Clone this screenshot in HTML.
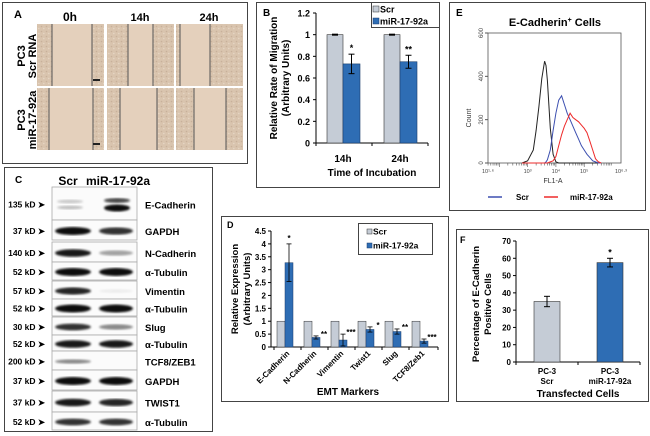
<!DOCTYPE html>
<html><head><meta charset="utf-8">
<style>
html,body{margin:0;padding:0;background:#fff}
svg{display:block;font-family:"Liberation Sans",Arial,sans-serif}
.b{font-weight:bold}
</style></head>
<body>
<svg width="650" height="436" viewBox="0 0 650 436" xmlns="http://www.w3.org/2000/svg">
<defs>
<filter id="blur1"><feGaussianBlur stdDeviation="1.1"/></filter>
<pattern id="cells" width="5" height="5" patternUnits="userSpaceOnUse">
<rect width="5" height="5" fill="#d9c4ae"/>
<circle cx="1.5" cy="1.5" r="0.8" fill="#c8b09a"/>
<circle cx="3.8" cy="3.5" r="0.8" fill="#e6d6c4"/>
</pattern>
</defs>

<g>
<rect x="2.5" y="2.5" width="245" height="161" fill="none" stroke="#444" stroke-width="1"/>
<text x="14" y="18" class="b" font-size="11">A</text>
<text x="70" y="21" class="b" font-size="12" text-anchor="middle">0h</text>
<text x="140" y="21" class="b" font-size="11" text-anchor="middle">14h</text>
<text x="209" y="21" class="b" font-size="11" text-anchor="middle">24h</text>
<text transform="translate(25,56) rotate(-90)" class="b" font-size="11" text-anchor="middle">PC3</text>
<text transform="translate(36,56) rotate(-90)" class="b" font-size="11" text-anchor="middle">Scr RNA</text>
<text transform="translate(25,120) rotate(-90)" class="b" font-size="11" text-anchor="middle">PC3</text>
<text transform="translate(36,120) rotate(-90)" class="b" font-size="11" text-anchor="middle">miR-17-92a</text>
<g id="imgs"></g>
</g>

<g>
<rect x="256.5" y="2.5" width="183" height="185" fill="none" stroke="#444"/>
<text x="263" y="16" class="b" font-size="10">B</text>
<g id="chartB"></g>
</g>

<g>
<rect x="4.5" y="167.5" width="208" height="264" fill="none" stroke="#444"/>
<text x="15" y="183" class="b" font-size="10">C</text>
<text x="68" y="185" class="b" font-size="12" text-anchor="middle">Scr</text>
<text x="118" y="185" class="b" font-size="12" text-anchor="middle">miR-17-92a</text>
<g id="blots"></g>
</g>

<g>
<rect x="221.5" y="216.5" width="227" height="185" fill="none" stroke="#444"/>
<text x="227" y="228" class="b" font-size="9">D</text>
<g id="chartD"></g>
</g>

<g>
<rect x="449.5" y="2.5" width="196" height="208" fill="none" stroke="#444"/>
<text x="456" y="16" class="b" font-size="10">E</text>
<text x="555" y="26" class="b" font-size="11" text-anchor="middle">E-Cadherin<tspan font-size="7" dy="-4">+</tspan><tspan dy="4"> Cells</tspan></text>
<g id="chartE"></g>
</g>

<g>
<rect x="456.5" y="229.5" width="192" height="172" fill="none" stroke="#444"/>
<text x="460" y="243" class="b" font-size="9">F</text>
<g id="chartF"></g>
</g>
</svg>

<script>
const bCategories = ["14h", "24h"];
const bScr = [1, 1];
const bMir = [0.73, 0.75];
const bMirErr = [0.09, 0.06];
const bStars = ["*", "**"];
const bTicks = [0, 0.2, 0.4, 0.6, 0.8, 1, 1.2];

const dCategories = ["E-Cadherin", "N-Cadherin", "Vimentin", "Twist1", "Slug", "TCF8/Zeb1"];
const dScr = [1, 1, 1, 1, 1, 1];
const dMir = [3.27, 0.37, 0.27, 0.68, 0.6, 0.23];
const dMirErr = [0.73, 0.06, 0.23, 0.1, 0.1, 0.08];
const dStars = ["*", "**", "***", "*", "**", "***"];
const dTicks = [0, 0.5, 1, 1.5, 2, 2.5, 3, 3.5, 4, 4.5];

const eLog = [2.8, 3.0, 3.2, 3.3, 3.4, 3.5, 3.6, 3.65, 3.7, 3.8, 3.9, 4.0, 4.1, 4.2, 4.3, 4.4, 4.5, 4.6, 4.7, 4.8, 4.9, 5.0, 5.1, 5.2, 5.3, 5.4, 5.5, 5.6];
const eBlack = [0, 10, 60, 150, 260, 390, 470, 450, 380, 160, 40, 5, 0, 0, 0, 0, 0, 0, 0, 0, 0, 0, 0, 0, 0, 0, 0, 0];
const eBlue = [0, 0, 0, 0, 0, 0, 0, 5, 15, 60, 150, 230, 290, 310, 270, 230, 200, 170, 140, 110, 80, 60, 40, 25, 10, 5, 0, 0];
const eRed = [0, 0, 0, 0, 0, 0, 0, 0, 0, 5, 10, 30, 80, 130, 170, 200, 230, 210, 200, 190, 175, 160, 140, 100, 60, 20, 5, 0];
const eYTicks = [0, 200, 400, 600];

const fCategories = ["PC-3|Scr", "PC-3|miR-17-92a"];
const fValues = [35, 57.5];
const fErr = [3, 2.5];
const fTicks = [0, 10, 20, 30, 40, 50, 60, 70];

const blotRows = [
  {kd:"135 kD", name:"E-Cadherin", y0:187, y1:220, s:0.3, m:0.95},
  {kd:"37 kD", name:"GAPDH", y0:220, y1:240, s:0.95, m:0.8},
  {kd:"140 kD", name:"N-Cadherin", y0:242, y1:262, s:0.9, m:0.35},
  {kd:"52 kD", name:"α-Tubulin", y0:262, y1:280, s:0.95, m:0.95},
  {kd:"57 kD", name:"Vimentin", y0:281, y1:299, s:0.85, m:0.05},
  {kd:"52 kD", name:"α-Tubulin", y0:299, y1:316, s:0.95, m:0.95},
  {kd:"30 kD", name:"Slug", y0:317, y1:335, s:0.8, m:0.45},
  {kd:"52 kD", name:"α-Tubulin", y0:335, y1:351, s:0.9, m:0.9},
  {kd:"200 kD", name:"TCF8/ZEB1", y0:351, y1:370, s:0.45, m:0},
  {kd:"37 kD", name:"GAPDH", y0:370, y1:390, s:0.95, m:0.95},
  {kd:"37 kD", name:"TWIST1", y0:391, y1:412, s:0.9, m:0.85},
  {kd:"52 kD", name:"α-Tubulin", y0:412, y1:430, s:0.8, m:0.8}
];

const NS = "http://www.w3.org/2000/svg";
function mk(parent, tag, attrs, text) {
  const e = document.createElementNS(NS, tag);
  for (const k in attrs) e.setAttribute(k, attrs[k]);
  if (text !== undefined) e.textContent = text;
  parent.appendChild(e);
  return e;
}

(function(){
  const g = document.getElementById("imgs");
  const cols = [37, 107, 176];
  const rows = [24, 88];
  const gaps = [[[52,92],[128,153],[180,210]],[[49,93],[120,157],[194,226]]];
  rows.forEach((y, ri) => cols.forEach((x, ci) => {
    const im = mk(g, "rect", {x:x, y:y, width:67, height:62, fill:"url(#cells)"});
    
    
    const gp = gaps[ri][ci];
    mk(g, "rect", {x:gp[0], y:y, width:gp[1]-gp[0], height:62, fill:"#e4d0bc"});
    mk(g, "line", {x1:gp[0], y1:y, x2:gp[0], y2:y+62, stroke:"#555", "stroke-width":1});
    mk(g, "line", {x1:gp[1], y1:y, x2:gp[1], y2:y+62, stroke:"#555", "stroke-width":1});
    if (ci === 0) mk(g, "line", {x1:93, y1:y+56, x2:100, y2:y+56, stroke:"#222", "stroke-width":2});
  }));
})();

(function(){
  const g = document.getElementById("chartB");
  const x0 = 316, yb = 143, yt = 13, max = 1.2;
  const y = v => yb - (v / max) * (yb - yt);
  const groupX = [327, 384];
  mk(g, "line", {x1:x0, y1:yt, x2:x0, y2:yb, stroke:"#000"});
  mk(g, "line", {x1:x0, y1:yb, x2:428, y2:yb, stroke:"#000"});
  [x0, 372, 428].forEach(t => mk(g, "line", {x1:t, y1:yb, x2:t, y2:yb+3, stroke:"#000"}));
  bTicks.forEach(t => {
    mk(g, "line", {x1:x0-3, y1:y(t), x2:x0, y2:y(t), stroke:"#000"});
    const tl = mk(g, "text", {x:x0-6, y:y(t)+3.5, "font-size":9, "text-anchor":"end", class:"b"}, String(t));
    
    
  });
  bCategories.forEach((c, i) => {
    const gx = groupX[i];
    const r1 = mk(g, "rect", {x:gx, y:y(bScr[i]), width:16, height:yb-y(bScr[i]), fill:"#c5ccd6", stroke:"#333", "stroke-width":0.6});
    
    
    mk(g, "line", {x1:gx+5, y1:y(bScr[i]), x2:gx+11, y2:y(bScr[i]), stroke:"#000", "stroke-width":2});
    const r2 = mk(g, "rect", {x:gx+16, y:y(bMir[i]), width:17, height:yb-y(bMir[i]), fill:"#2e6db4", stroke:"#1a3d6a", "stroke-width":0.6});
    
    
    const cx = gx + 24.5, hi = y(bMir[i] + bMirErr[i]), lo = y(bMir[i] - bMirErr[i]);
    mk(g, "line", {x1:cx, y1:hi, x2:cx, y2:lo, stroke:"#000"});
    mk(g, "line", {x1:cx-3, y1:hi, x2:cx+3, y2:hi, stroke:"#000"});
    mk(g, "line", {x1:cx-3, y1:lo, x2:cx+3, y2:lo, stroke:"#000"});
    mk(g, "text", {x:cx, y:hi-3, "font-size":9, "text-anchor":"middle", class:"b"}, bStars[i]);
    const xl = mk(g, "text", {x:gx+16, y:162, "font-size":10, "text-anchor":"middle", class:"b"}, c);
    
    
  });
  const xt = mk(g, "text", {x:372, y:176, "font-size":10, "text-anchor":"middle", class:"b"}, "Time of Incubation");
  
  
  const yt1 = mk(g, "text", {transform:"translate(277,78) rotate(-90)", "font-size":10, "text-anchor":"middle", class:"b"}, "Relative Rate of Migration");
  
  
  mk(g, "text", {transform:"translate(289,78) rotate(-90)", "font-size":10, "text-anchor":"middle", class:"b"}, "(Arbitrary Units)");
  const lg = mk(g, "g", {});
  
  
  mk(lg, "rect", {x:371.5, y:2.5, width:68, height:25, fill:"#fff", stroke:"#444"});
  mk(lg, "rect", {x:373, y:6, width:6, height:6, fill:"#c5ccd6", stroke:"#333", "stroke-width":0.5});
  mk(lg, "text", {x:380, y:12.5, "font-size":9, class:"b"}, "Scr");
  mk(lg, "rect", {x:373, y:18, width:6, height:6, fill:"#2e6db4", stroke:"#1a3d6a", "stroke-width":0.5});
  mk(lg, "text", {x:380, y:24.5, "font-size":9, class:"b"}, "miR-17-92a");
})();

(function(){
  const g = document.getElementById("blots");
  blotRows.forEach((r, idx) => {
    const row = mk(g, "g", {});
    
    
    mk(row, "rect", {x:52, y:r.y0, width:85, height:r.y1-r.y0, fill:"#fbfbfb", stroke:"#aaa", "stroke-width":0.8});
    const cy = (r.y0 + r.y1) / 2 + 1;
    const h = 2 + 2.2 * Math.max(r.s, r.m);
    if (idx === 0) {
      mk(row, "ellipse", {cx:70, cy:cy-3, rx:13, ry:1.8, fill:"#333", opacity:0.25, filter:"url(#blur1)"});
      mk(row, "ellipse", {cx:70, cy:cy+3, rx:13, ry:1.8, fill:"#333", opacity:0.3, filter:"url(#blur1)"});
      mk(row, "ellipse", {cx:117, cy:cy-4, rx:13, ry:2.5, fill:"#111", opacity:0.75, filter:"url(#blur1)"});
      mk(row, "ellipse", {cx:117, cy:cy+3.5, rx:13, ry:3.5, fill:"#000", opacity:0.95, filter:"url(#blur1)"});
    } else {
      if (r.s > 0) mk(row, "ellipse", {cx:73, cy:cy, rx:18, ry:h*(0.5+0.5*r.s), fill:"#000", opacity:r.s, filter:"url(#blur1)"});
      if (r.m > 0) mk(row, "ellipse", {cx:116, cy:cy, rx:17, ry:h*(0.5+0.5*r.m), fill:"#000", opacity:r.m, filter:"url(#blur1)"});
    }
    mk(row, "text", {x:45, y:cy+3, "font-size":8.5, "text-anchor":"end", class:"b"}, r.kd + " ➤");
    mk(row, "text", {x:145, y:cy+4, "font-size":9.5, class:"b"}, r.name);
  });
})();

(function(){
  const g = document.getElementById("chartD");
  const x0 = 271, xr = 438, yb = 347, yt = 231, max = 4.5;
  const y = v => yb - (v / max) * (yb - yt);
  const step = 27, first = 277;
  mk(g, "line", {x1:x0, y1:yt, x2:x0, y2:yb, stroke:"#000"});
  mk(g, "line", {x1:x0, y1:yb, x2:xr, y2:yb, stroke:"#000"});
  dTicks.forEach(t => {
    mk(g, "line", {x1:x0-3, y1:y(t), x2:x0, y2:y(t), stroke:"#000"});
    const tl = mk(g, "text", {x:x0-5, y:y(t)+3, "font-size":8, "text-anchor":"end", class:"b"}, String(t));
    
    
  });
  dCategories.forEach((c, i) => {
    const gx = first + i * step;
    mk(g, "line", {x1:gx-3, y1:yb, x2:gx-3, y2:yb+3, stroke:"#000"});
    const r1 = mk(g, "rect", {x:gx, y:y(dScr[i]), width:8, height:yb-y(dScr[i]), fill:"#c5ccd6", stroke:"#333", "stroke-width":0.5});
    
    
    const r2 = mk(g, "rect", {x:gx+8, y:y(dMir[i]), width:8, height:yb-y(dMir[i]), fill:"#2e6db4", stroke:"#1a3d6a", "stroke-width":0.5});
    
    
    const cx = gx + 12, hi = y(dMir[i] + dMirErr[i]), lo = y(Math.max(0, dMir[i] - dMirErr[i]));
    mk(g, "line", {x1:cx, y1:hi, x2:cx, y2:lo, stroke:"#000", "stroke-width":0.8});
    mk(g, "line", {x1:cx-2.5, y1:hi, x2:cx+2.5, y2:hi, stroke:"#000", "stroke-width":0.8});
    mk(g, "line", {x1:cx-2.5, y1:lo, x2:cx+2.5, y2:lo, stroke:"#000", "stroke-width":0.8});
    const sx = i === 0 ? cx : gx + 20;
    mk(g, "text", {x:sx, y:i === 0 ? hi-3 : hi+1, "font-size":8, "text-anchor":"middle", class:"b"}, dStars[i]);
    const xl = mk(g, "text", {transform:"translate(" + (gx+13) + "," + (yb+7) + ") rotate(-45)", "font-size":8, "text-anchor":"end", class:"b"}, c);
    
    
  });
  mk(g, "line", {x1:xr, y1:yb, x2:xr, y2:yb+3, stroke:"#000"});
  const xt = mk(g, "text", {x:348, y:395, "font-size":10, "text-anchor":"middle", class:"b"}, "EMT Markers");
  
  
  const yt1 = mk(g, "text", {transform:"translate(238,289) rotate(-90)", "font-size":9.5, "text-anchor":"middle", class:"b"}, "Relative Expression");
  
  
  mk(g, "text", {transform:"translate(250,289) rotate(-90)", "font-size":9.5, "text-anchor":"middle", class:"b"}, "(Arbitrary Units)");
  const lg = mk(g, "g", {});
  
  
  mk(lg, "rect", {x:358.5, y:223.5, width:74, height:31, fill:"#fff", stroke:"#444"});
  mk(lg, "rect", {x:367, y:229, width:5, height:5, fill:"#c5ccd6", stroke:"#333", "stroke-width":0.5});
  mk(lg, "text", {x:373, y:234.5, "font-size":8.5, class:"b"}, "Scr");
  mk(lg, "rect", {x:367, y:243, width:5, height:5, fill:"#2e6db4", stroke:"#1a3d6a", "stroke-width":0.5});
  mk(lg, "text", {x:373, y:248.5, "font-size":8.5, class:"b"}, "miR-17-92a");
})();

(function(){
  const g = document.getElementById("chartE");
  const xl = 488, xr = 621, yb = 163, yt = 33, lmin = 1.6, lmax = 6.3;
  const x = l => xl + (l - lmin) / (lmax - lmin) * (xr - xl);
  const y = v => yb - v / 600 * (yb - yt);
  mk(g, "rect", {x:xl, y:yt, width:xr-xl, height:yb-yt, fill:"none", stroke:"#555", "stroke-width":0.8});
  eYTicks.forEach(t => {
    mk(g, "line", {x1:xl-3, y1:y(t), x2:xl, y2:y(t), stroke:"#555"});
    const tl = mk(g, "text", {transform:"translate(" + (xl-5) + "," + y(t) + ") rotate(-90)", "font-size":6, "text-anchor":"middle", fill:"#444"}, String(t));
    
    
  });
  for (let d = 2; d <= 6; d++) {
    for (let k = 1; k < 10; k++) {
      const l = d - 1 + Math.log10(k);
      if (l < lmin || l > lmax) continue;
      mk(g, "line", {x1:x(l), y1:yb, x2:x(l), y2:yb+(k===1?4:2.5), stroke:"#555", "stroke-width":0.6});
    }
  }
  [["10¹·⁶",1.6],["10³",3],["10⁴",4],["10⁵",5],["10⁶·³",6.3]].forEach(t => {
    const tl = mk(g, "text", {x:x(t[1]), y:yb+10, "font-size":5.5, "text-anchor":"middle", fill:"#444"}, t[0]);
    
    
  });
  const xt = mk(g, "text", {x:553, y:183, "font-size":7, "text-anchor":"middle", fill:"#333"}, "FL1-A");
  
  
  const yt1 = mk(g, "text", {transform:"translate(471,118) rotate(-90)", "font-size":7, "text-anchor":"middle", fill:"#333"}, "Count");
  
  
  [[eBlack,"#222","black"],[eBlue,"#3c4fb0","scr"],[eRed,"#ee2a2a","mir"]].forEach(s => {
    const pts = eLog.map((l, i) => x(l).toFixed(1) + "," + y(s[0][i]).toFixed(1)).join(" ");
    const p = mk(g, "polyline", {points:pts, fill:"none", stroke:s[1], "stroke-width":1});
    
    
  });
  const lg = mk(g, "g", {});
  
  
  mk(lg, "line", {x1:488, y1:197, x2:502, y2:197, stroke:"#3c4fb0", "stroke-width":1.5});
  mk(lg, "text", {x:516, y:200, "font-size":8, class:"b"}, "Scr");
  mk(lg, "line", {x1:544, y1:197, x2:558, y2:197, stroke:"#ee2a2a", "stroke-width":1.5});
  mk(lg, "text", {x:570, y:200, "font-size":8, class:"b"}, "miR-17-92a");
})();

(function(){
  const g = document.getElementById("chartF");
  const x0 = 516, xr = 640, yb = 362, yt = 241, max = 70;
  const y = v => yb - v / max * (yb - yt);
  const barX = [534, 597];
  const colors = ["#c5ccd6", "#2e6db4"];
  mk(g, "line", {x1:x0, y1:yt, x2:x0, y2:yb, stroke:"#000"});
  mk(g, "line", {x1:x0, y1:yb, x2:xr, y2:yb, stroke:"#000"});
  [x0, 578, xr].forEach(t => mk(g, "line", {x1:t, y1:yb, x2:t, y2:yb+3, stroke:"#000"}));
  fTicks.forEach(t => {
    mk(g, "line", {x1:x0-3, y1:y(t), x2:x0, y2:y(t), stroke:"#000"});
    const tl = mk(g, "text", {x:x0-5, y:y(t)+3, "font-size":8, "text-anchor":"end", class:"b"}, String(t));
    
    
  });
  fCategories.forEach((c, i) => {
    const r = mk(g, "rect", {x:barX[i], y:y(fValues[i]), width:26, height:yb-y(fValues[i]), fill:colors[i], stroke:"#333", "stroke-width":0.6});
    
    
    const cx = barX[i] + 13, hi = y(fValues[i] + fErr[i]), lo = y(fValues[i] - fErr[i]);
    mk(g, "line", {x1:cx, y1:hi, x2:cx, y2:lo, stroke:"#000"});
    mk(g, "line", {x1:cx-3, y1:hi, x2:cx+3, y2:hi, stroke:"#000"});
    mk(g, "line", {x1:cx-3, y1:lo, x2:cx+3, y2:lo, stroke:"#000"});
    if (i === 1) mk(g, "text", {x:cx, y:hi-3, "font-size":9, "text-anchor":"middle", class:"b"}, "*");
    const parts = c.split("|");
    const l1 = mk(g, "text", {x:cx, y:374, "font-size":8, "text-anchor":"middle", class:"b"}, parts[0]);
    
    
    mk(g, "text", {x:cx, y:384, "font-size":8, "text-anchor":"middle", class:"b"}, parts[1]);
  });
  const xt = mk(g, "text", {x:578, y:397, "font-size":10, "text-anchor":"middle", class:"b"}, "Transfected Cells");
  
  
  const yt1 = mk(g, "text", {transform:"translate(479,304) rotate(-90)", "font-size":9.5, "text-anchor":"middle", class:"b"}, "Percentage of E-Cadherin");
  
  
  mk(g, "text", {transform:"translate(491,304) rotate(-90)", "font-size":9.5, "text-anchor":"middle", class:"b"}, "Positive Cells");
})();
</script>
</body></html>
